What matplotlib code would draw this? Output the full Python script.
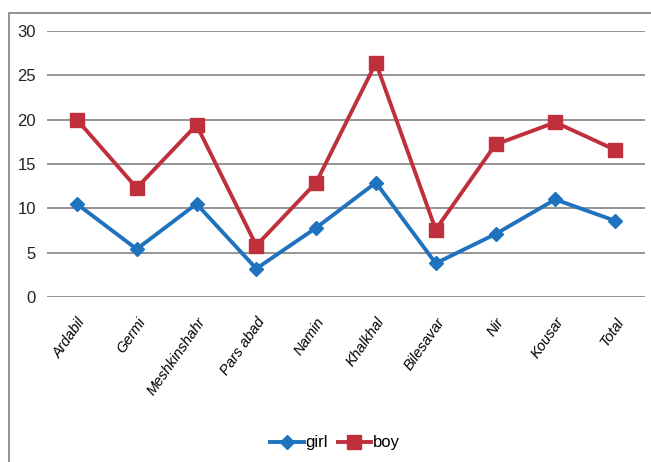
import matplotlib
matplotlib.use("Agg")
import matplotlib.pyplot as plt
from matplotlib.patches import Rectangle

categories = ["Ardabil", "Germi", "Meshkinshahr", "Pars abad", "Namin",
              "Khalkhal", "Bilesavar", "Nir", "Kousar", "Total"]
girl = [10.5, 5.4, 10.5, 3.2, 7.8, 12.9, 3.8, 7.1, 11.0, 8.6]
boy = [20.0, 12.3, 19.4, 5.8, 12.9, 26.4, 7.6, 17.2, 19.7, 16.6]
yticks = [0, 5, 10, 15, 20, 25, 30]

blue = "#1F72BE"
red = "#BF2F3C"
narrow = ["Liberation Sans Narrow", "Liberation Sans", "DejaVu Sans"]

fig = plt.figure(figsize=(6.51, 4.62), dpi=100)
ax = fig.add_axes([47/651, 1-297/462, 598/651, 266/462])

x = list(range(len(categories)))
ax.plot(x, girl, color=blue, lw=2.8, marker="D", ms=7.5, label="girl")
ax.plot(x, boy, color=red, lw=2.8, marker="s", ms=10, label="boy")

ax.set_xlim(-0.5, len(categories) - 0.5)
ax.set_ylim(0, 30)
ax.set_yticks(yticks)
ax.set_yticklabels([str(v) for v in yticks], fontsize=12, family=narrow, color="#222222")
ax.set_xticks(x)
ax.set_xticklabels(categories, rotation=55, ha="right", rotation_mode="anchor",
                   fontsize=10.5, style="italic", family=["Liberation Sans", "DejaVu Sans"])
ax.tick_params(axis="both", length=0, pad=8)
ax.tick_params(axis="x", pad=13)
ax.grid(axis="y", color="#949494", lw=1.4)
ax.set_axisbelow(True)
for s in ax.spines.values():
    s.set_visible(False)

leg = fig.legend(loc="center", bbox_to_anchor=(335/651, 1-443/462), ncol=2,
                 frameon=False, handlelength=2.0, handletextpad=0.1, columnspacing=0.6,
                 prop={"family": narrow, "size": 12})

fig.patches.append(Rectangle((9/651, -0.05), 1.1, 1-13/462+0.05, transform=fig.transFigure,
                             fill=False, edgecolor="#808080", lw=1.2, clip_on=False))

fig.savefig("out.png", dpi=100)
